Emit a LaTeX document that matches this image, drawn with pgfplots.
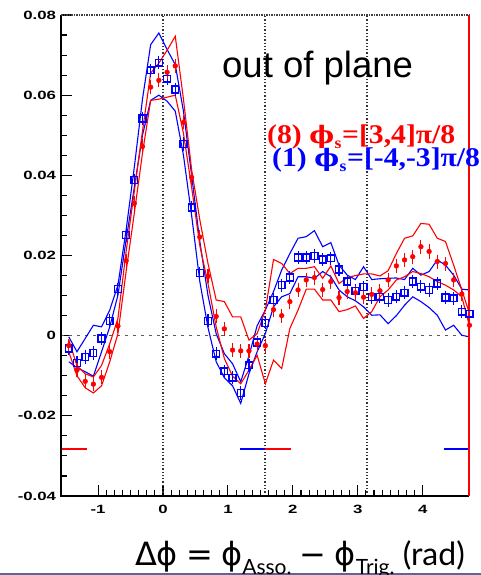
\documentclass[border=0pt]{standalone}
\usepackage{fontspec}
\usepackage{pgfplots}
\usepackage{pgfplotstable}
\pgfplotsset{compat=1.18}
\setmainfont{Liberation Sans}
\newfontfamily\legfont{Liberation Serif}
\newfontfamily\greekserif{DejaVu Serif}
\newfontfamily\labfont{Lato}
\newfontfamily\greeksans{DejaVu Sans}

\definecolor{slide}{RGB}{98,98,150}

% x: bin position (rad); red/blue: yields; *lo/*hi: systematic envelopes
\pgfplotstableread{
x      red     rlo     rhi     blue    blo     bhi
-1.451 -0.0025 -0.0040 -0.0010 -0.0032 -0.0065 -0.0003
-1.325 -0.0086 -0.0100 -0.0075 -0.0068 -0.0080 -0.0040
-1.198 -0.0114 -0.0130 -0.0095 -0.0053 -0.0090 -0.0007
-1.072 -0.0121 -0.0143 -0.0103 -0.0043 -0.0101  0.0026
-0.946 -0.0104 -0.0125 -0.0074 -0.0007 -0.0040  0.0022
-0.820 -0.0040 -0.0065 -0.0020  0.0037  0.0022  0.0064
-0.694  0.0024  0.0005  0.0043  0.0116  0.0101  0.0126
-0.568  0.0187  0.0160  0.0210  0.0251  0.0239  0.0264
-0.442  0.0330  0.0305  0.0360  0.0388  0.0370  0.0420
-0.316  0.0472  0.0455  0.0510  0.0542  0.0500  0.0590
-0.190  0.0620  0.0587  0.0655  0.0662  0.0587  0.0726
-0.064  0.0637  0.0590  0.0680  0.0681  0.0600  0.0755
 0.063  0.0657  0.0595  0.0712  0.0641  0.0585  0.0714
 0.189  0.0673  0.0600  0.0747  0.0614  0.0560  0.0676
 0.315  0.0532  0.0505  0.0590  0.0478  0.0450  0.0560
 0.441  0.0395  0.0370  0.0414  0.0320  0.0300  0.0400
 0.567  0.0246  0.0225  0.0289  0.0156  0.0135  0.0235
 0.693  0.0148  0.0130  0.0180  0.0037  0.0020  0.0100
 0.819  0.0048  0.0022  0.0089 -0.0045 -0.0065  0.0005
 0.945  0.0017 -0.0057  0.0085 -0.0089 -0.0105 -0.0045
 1.071 -0.0036 -0.0101  0.0047 -0.0105 -0.0125 -0.0070
 1.197 -0.0038 -0.0120  0.0047 -0.0143 -0.0169 -0.0115
 1.324 -0.0038 -0.0086 -0.0011 -0.0074 -0.0095 -0.0050
 1.450 -0.0021 -0.0049  0.0005 -0.0017 -0.0040  0.0025
 1.576 -0.0025 -0.0120  0.0064  0.0032  0.0005  0.0064
 1.702  0.0065 -0.0061  0.0190  0.0089  0.0072  0.0110
 1.828  0.0050 -0.0082  0.0180  0.0126  0.0097  0.0164
 1.954  0.0085  0.0018  0.0155  0.0145  0.0105  0.0205
 2.080  0.0114  0.0064  0.0168  0.0195  0.0147  0.0243
 2.206  0.0139  0.0116  0.0168  0.0195  0.0147  0.0247
 2.332  0.0145  0.0116  0.0172  0.0199  0.0143  0.0262
 2.459  0.0115  0.0089  0.0143  0.0190  0.0160  0.0222
 2.585  0.0135  0.0089  0.0174  0.0193  0.0147  0.0232
 2.711  0.0095  0.0060  0.0130  0.0165  0.0114  0.0176
 2.837  0.0110  0.0065  0.0145  0.0135  0.0097  0.0151
 2.963  0.0107  0.0074  0.0150  0.0112  0.0087  0.0140
 3.089  0.0096  0.0043  0.0154  0.0121  0.0072  0.0172
 3.215  0.0103  0.0060  0.0154  0.0096  0.0051  0.0140
 3.341  0.0112  0.0097  0.0149  0.0097  0.0052  0.0142
 3.467  0.0139  0.0114  0.0162  0.0089  0.0030  0.0143
 3.594  0.0174  0.0139  0.0205  0.0097  0.0050  0.0144
 3.720  0.0189  0.0147  0.0243  0.0107  0.0076  0.0140
 3.846  0.0197  0.0160  0.0249  0.0135  0.0097  0.0168
 3.972  0.0222  0.0155  0.0280  0.0122  0.0085  0.0151
 4.098  0.0210  0.0147  0.0278  0.0114  0.0070  0.0160
 4.224  0.0185  0.0135  0.0243  0.0130  0.0051  0.0189
 4.350  0.0180  0.0126  0.0235  0.0095  0.0014  0.0176
 4.476  0.0139  0.0114  0.0176  0.0093  0.0026  0.0151
 4.602  0.0104  0.0097  0.0114  0.0060  0.0001  0.0116
 4.720  0.0026  0.0024  0.0055  0.0055 -0.0003  0.0114
}\data

% phi_s symbol used in the two selection labels
\newcommand{\phis}{{\greekserif\fontsize{24bp}{24bp}\selectfont ϕ}\kern0.5bp\raisebox{-0.17em}{\fontsize{16bp}{16bp}\selectfont s}\kern0.5bp}

\begin{document}
\begin{tikzpicture}
\path[use as bounding box] (0,0) rectangle (481bp,575bp);
\fill[slide] (0,0) rectangle (481bp,2.3bp);

\begin{axis}[
  at={(61bp,79bp)}, anchor=south west,
  scale only axis, width=408bp, height=481bp,
  xmin=-1.5708, xmax=4.7124, ymin=-0.04, ymax=0.08,
  clip=false,
  axis line style={draw=none},
  tick align=inside,
  xtick pos=bottom, ytick pos=left,
  major tick length=11bp, minor tick length=6bp,
  tick style={black, line width=1.1bp},
  xtick={-1,0,1,2,3,4}, xticklabels={-1,0,1,2,3,4},
  ytick={-0.04,-0.02,0,0.02,0.04,0.06,0.08},
  yticklabels={-0.04,-0.02,0,0.02,0.04,0.06,0.08},
  minor x tick num=7, minor y tick num=3,
  ticklabel style={font=\bfseries\fontsize{12bp}{12bp}\selectfont, xscale=1.4},
  xticklabel style={yshift=-6bp},
  scaled y ticks=false,
]
% reference lines at 0, pi/2, pi and at zero yield
\draw[black!80, dash pattern=on 1.3bp off 2bp, line width=1.3bp] (axis cs:0,-0.04) -- (axis cs:0,0.08);
\draw[black!80, dash pattern=on 1.3bp off 2bp, line width=1.3bp] (axis cs:1.5708,-0.04) -- (axis cs:1.5708,0.08);
\draw[black!80, dash pattern=on 1.3bp off 2bp, line width=1.3bp] (axis cs:3.1416,-0.04) -- (axis cs:3.1416,0.08);
\draw[black!65, dash pattern=on 3bp off 5bp, line width=1.2bp] (axis cs:-1.5708,0) -- (axis cs:4.7124,0);

% normalisation windows
\addplot[red, line width=1.4bp] coordinates {(-1.5708,-0.0283) (-1.17,-0.0283)};
\addplot[red, line width=1.4bp] coordinates {(1.5708,-0.0283) (1.97,-0.0283)};
\addplot[blue, line width=1.4bp] coordinates {(1.18,-0.0283) (1.5708,-0.0283)};
\addplot[blue, line width=1.4bp] coordinates {(4.32,-0.0283) (4.7124,-0.0283)};

% systematic envelopes
\addplot[blue, line width=1.1bp] table[x=x, y=blo] {\data};
\addplot[blue, line width=1.1bp] table[x=x, y=bhi] {\data};
\addplot[red, line width=1.1bp] table[x=x, y=rlo] {\data};
\addplot[red, line width=1.1bp] table[x=x, y=rhi] {\data};

% data points
\addplot[blue, only marks, mark=square, mark size=3.4bp,
  mark options={fill=white, line width=1.4bp},
  error bars/.cd, y dir=both, y fixed=0.0009,
  error bar style={line width=1.1bp},
  error mark options={blue, mark size=3bp, line width=1.1bp}]
  table[x=x, y=blue] {\data};
\addplot[red, only marks, mark=*, mark size=2.4bp,
  error bars/.cd, y dir=both, y fixed=0.001,
  error bar style={line width=1.1bp},
  error mark options={red, mark size=3bp, line width=1.1bp}]
  table[x=x, y=red] {\data};

% frame
\draw[red, line width=1bp] (axis cs:-1.5708,-0.0399) -- (axis cs:4.7124,-0.0399);
\draw[black, line width=1.5bp] (axis cs:-1.5708,0.08) -- (axis cs:-1.5708,-0.04) -- (axis cs:4.7124,-0.04);
\draw[black!75, dash pattern=on 1.5bp off 1bp, line width=1.6bp] (axis cs:-1.5708,0.08) -- (axis cs:4.7124,0.08);
\draw[red, line width=2bp] (axis cs:4.7124,-0.04) -- (axis cs:4.7124,0.08);
\end{axis}

\node[anchor=base west, inner sep=0, font=\fontsize{36.5bp}{36.5bp}\selectfont] at (222bp,497bp) {out of plane};

\node[anchor=base west, inner sep=0, text=red, xscale=1.1, font=\legfont\bfseries\fontsize{27bp}{27bp}\selectfont]
  at (267bp,431bp) {(8) \phis=[3,4]π/8};
\node[anchor=base west, inner sep=0, text=blue, xscale=1.1, font=\legfont\bfseries\fontsize{27bp}{27bp}\selectfont]
  at (272bp,408bp) {(1) \phis=[-4,-3]π/8};

\node[anchor=base east, inner sep=0, font=\labfont\fontsize{32bp}{32bp}\selectfont]
  at (465bp,10bp) {{\greeksans Δϕ} {\greeksans =} {\greeksans ϕ}\raisebox{-0.3em}{\fontsize{21bp}{21bp}\selectfont Asso.} {\greeksans −} {\greeksans ϕ}\raisebox{-0.3em}{\fontsize{21bp}{21bp}\selectfont Trig.} (rad)};
\end{tikzpicture}
\end{document}
